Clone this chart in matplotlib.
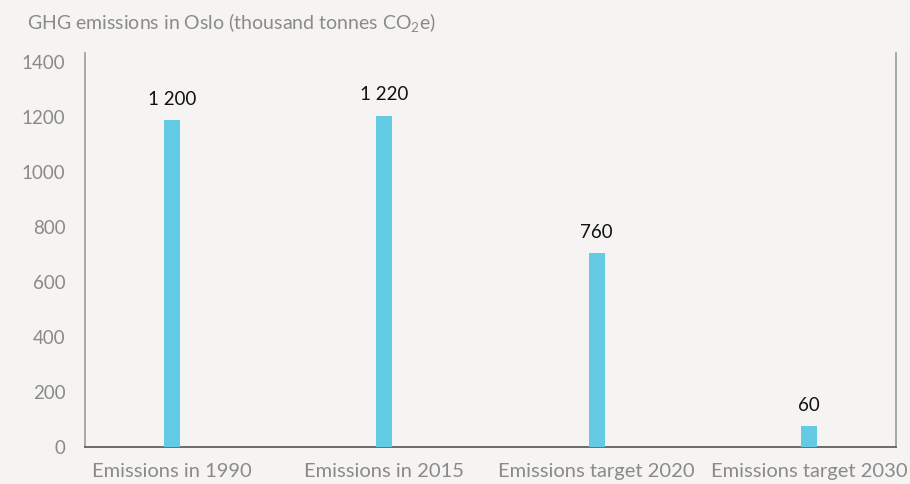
import matplotlib
matplotlib.use("Agg")
import matplotlib.pyplot as plt

categories = ["Emissions in 1990", "Emissions in 2015", "Emissions target 2020", "Emissions target 2030"]
bar_heights = [1190, 1205, 705, 75]
value_labels = ["1 200", "1 220", "760", "60"]
yticks = [0, 200, 400, 600, 800, 1000, 1200, 1400]

plt.rcParams['font.family'] = ['Lato', 'DejaVu Sans']
plt.rcParams['mathtext.fontset'] = 'custom'
plt.rcParams['mathtext.rm'] = 'Lato'
plt.rcParams['mathtext.it'] = 'Lato:italic'

bg = "#f5f4f2"
fig = plt.figure(figsize=(9.10, 4.84), dpi=100, facecolor=bg)
ax = fig.add_axes([85/910, 1 - 446.5/484, 811/910, (446.5-53)/484])
ax.set_facecolor(bg)

x = list(range(len(categories)))
ax.bar(x, bar_heights, width=0.075, color="#63cbe3", zorder=3)
for xi, h, lab in zip(x, bar_heights, value_labels):
    ax.text(xi, h + 45, lab, ha="center", va="bottom", fontsize=13.5, color="#111111")

ax.set_xlim(-0.41, 3.41)
ax.set_ylim(0, 1434)
ax.set_xticks(x)
ax.set_xticklabels(categories, fontsize=14.5, color="#8a8a8a")
ax.set_yticks(yticks)
ax.set_yticklabels([str(v) for v in yticks], fontsize=13.5, color="#8a8a8a")
ax.tick_params(length=0)
ax.tick_params(axis="x", pad=12)
ax.tick_params(axis="y", pad=14)

ax.spines["top"].set_visible(False)
ax.spines["left"].set_color("#9a9a9a")
ax.spines["right"].set_color("#9a9a9a")
ax.spines["bottom"].set_color("#555555")
for s in ["left", "right", "bottom"]:
    ax.spines[s].set_linewidth(1.2)

fig.text(27/910, 1 - 22/484, "GHG emissions in Oslo (thousand tonnes CO$_2$e)",
         fontsize=14, color="#8a8a8a", ha="left", va="center")

fig.savefig("out.png", dpi=100, facecolor=bg)
